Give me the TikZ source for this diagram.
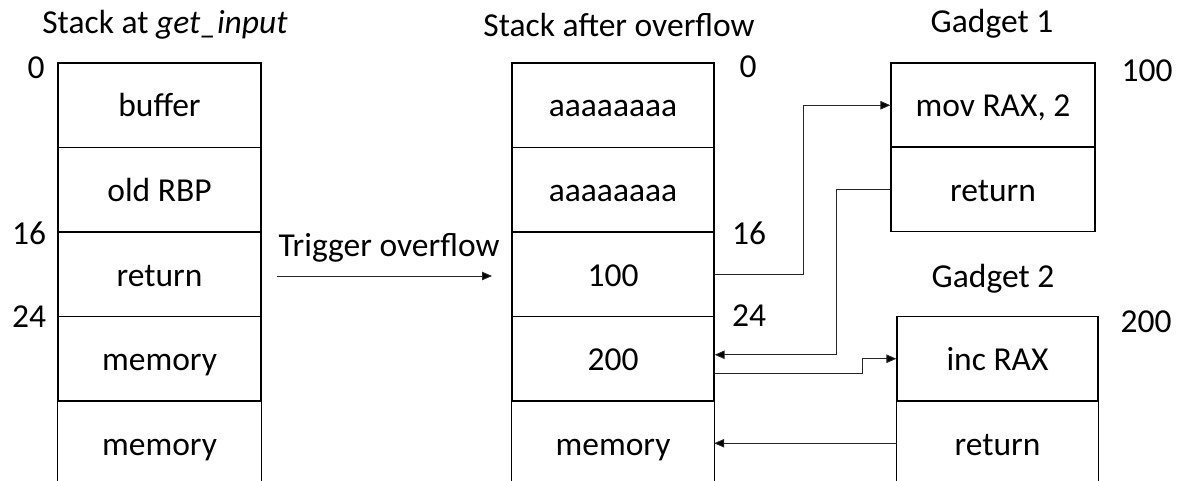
\documentclass[tikz,border=0pt]{standalone}
\usepackage{fontspec}
\setmainfont{Carlito}
\usetikzlibrary{arrows.meta}
\tikzset{
  cellbox/.style={draw=black, line width=1.3pt, rectangle, inner sep=0pt,
    minimum height=84.5pt, text height=23.5pt, text depth=0pt},
  opencell/.style={rectangle, inner sep=0pt,
    minimum height=84.5pt, text height=23.5pt, text depth=0pt},
  lstack/.style={minimum width=203pt},
  mstack/.style={minimum width=202pt},
  gone/.style={minimum width=204pt},
  gtwo/.style={minimum width=201pt},
  lbl/.style={inner sep=0pt},
  ttl/.style={inner sep=0pt, anchor=base},
  conn/.style={draw=black!85, line width=0.9pt},
  tip/.style={-{Triangle[length=10pt,width=8.5pt,fill=black]}},
}
\begin{document}
\begin{tikzpicture}[x=1pt,y=-1pt, font=\fontsize{33.5}{40}\selectfont]
\useasboundingbox (0,0) rectangle (1190,481);
% titles
\node[ttl] (t1) at (165,34) {Stack at \textit{get\_input}};
\node[ttl] (t2) at (619,37) {Stack after overflow};
\node[ttl] (t3) at (992,33) {Gadget 1};
\node[ttl] (t4) at (993,287) {Gadget 2};
% left stack
\node[cellbox,lstack] (l1) at (159.5,105.25) {buffer};
\node[cellbox,lstack] (l2) at (159.5,189.75) {old RBP};
\node[cellbox,lstack] (l3) at (159.5,274.25) {return};
\node[cellbox,lstack] (l4) at (159.5,358.75) {memory};
\node[opencell,lstack] (l5) at (159.5,443.25) {memory};
\draw[line width=1.3pt] (l5.south west) -- (l5.north west) -- (l5.north east) -- (l5.south east);
\node[lbl] (n0) at (36,68) {0};
\node[lbl] (n16) at (29,233) {16};
\node[lbl] (n24) at (29,317) {24};
% middle stack
\node[cellbox,mstack] (m1) at (613,105.25) {aaaaaaaa};
\node[cellbox,mstack] (m2) at (613,189.75) {aaaaaaaa};
\node[cellbox,mstack] (m3) at (613,274.25) {100};
\node[cellbox,mstack] (m4) at (613,358.75) {200};
\node[opencell,mstack] (m5) at (613,443.25) {memory};
\draw[line width=1.3pt] (m5.south west) -- (m5.north west) -- (m5.north east) -- (m5.south east);
\node[lbl] (p0) at (748,67) {0};
\node[lbl] (p16) at (749,233) {16};
\node[lbl] (p24) at (749,316) {24};
% gadget 1
\node[cellbox,gone] (g1a) at (993,105.25) {mov RAX, 2};
\node[cellbox,gone] (g1b) at (993,189.25) {return};
\node[lbl] (q100) at (1147,71) {100};
% gadget 2
\node[cellbox,gtwo] (g2a) at (997.5,358.75) {inc RAX};
\node[opencell,gtwo] (g2b) at (997.5,443.25) {return};
\draw[line width=1.3pt] (g2b.south west) -- (g2b.north west) -- (g2b.north east) -- (g2b.south east);
\node[lbl] (q200) at (1146,322) {200};
% trigger arrow
\node[ttl] (trig) at (389,256) {Trigger overflow};
\coordinate (a1) at (277,276);
\coordinate (a2) at (492,276);
\draw[conn,tip] (a1) -- (a2);
% connectors
\draw[conn,tip] (m3.east) -- ++(89,0) |- (g1a.west);
\draw[conn,tip] (g1b.west) -- ++(-54,0) |- ([yshift=4pt]m4.east);
\draw[conn,tip] ([yshift=-15pt]m4.east) -- ++(148,0) |- (g2a.west);
\draw[conn,tip] (g2b.west) -- (m5.east);
\end{tikzpicture}
\end{document}
